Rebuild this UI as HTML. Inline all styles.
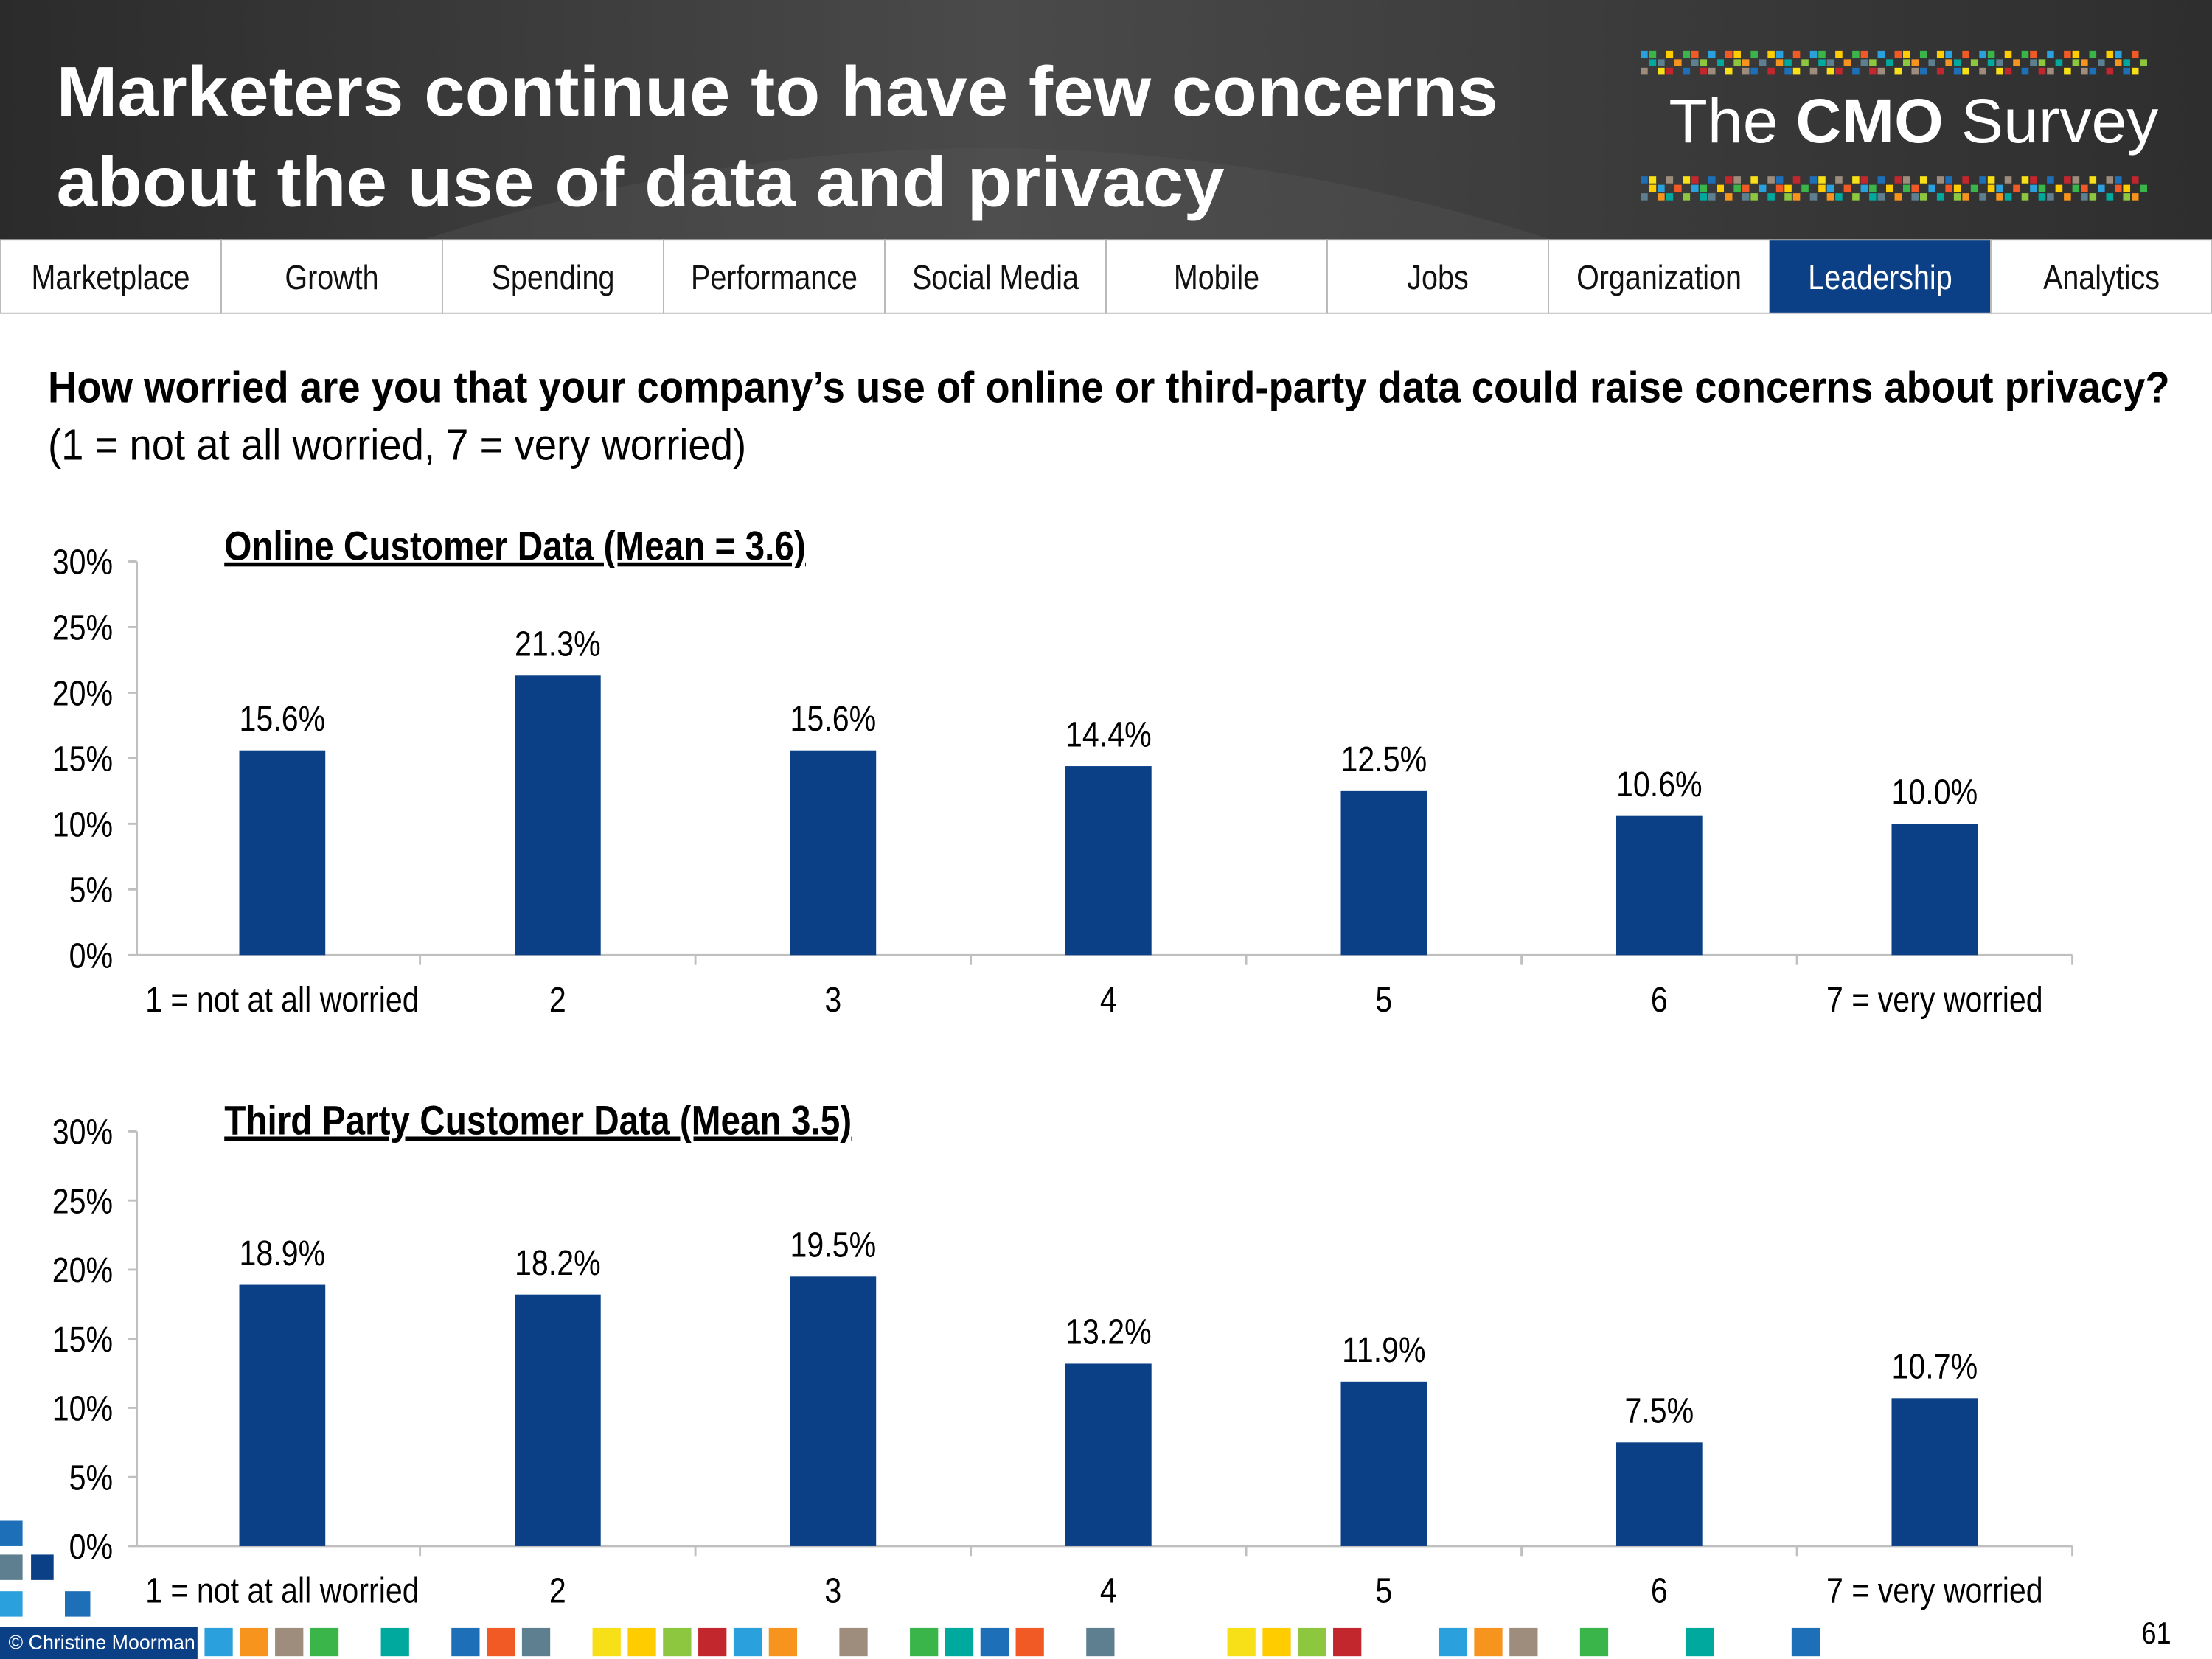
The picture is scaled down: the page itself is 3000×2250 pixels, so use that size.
<!DOCTYPE html>
<html><head><meta charset="utf-8">
<style>
html,body{margin:0;padding:0;background:#fff;}
svg{display:block;}
text{font-family:"Liberation Sans",sans-serif;}
</style></head>
<body>
<svg id="s" width="3000" height="2250" viewBox="0 0 1568 1176" xmlns="http://www.w3.org/2000/svg">
<defs>
<linearGradient id="hg" x1="0" y1="0" x2="1" y2="0">
<stop offset="0" stop-color="#2b2b2b"/><stop offset="0.45" stop-color="#4a4a4a"/><stop offset="0.75" stop-color="#3a3a3a"/><stop offset="1" stop-color="#2e2e2e"/>
</linearGradient>
</defs>
<g>
<rect x="0" y="0" width="1568" height="170" fill="url(#hg)"/>
<path d="M300 170 Q700 40 1100 170 Z" fill="#555" opacity="0.35"/>
<text x="40" y="82" fill="#fff" font-size="50" font-weight="bold" textLength="1022" lengthAdjust="spacingAndGlyphs" data-keep="1">Marketers continue to have few concerns</text>
<text x="40" y="146" fill="#fff" font-size="50" font-weight="bold" textLength="828" lengthAdjust="spacingAndGlyphs" data-keep="1">about the use of data and privacy</text>
<g id="pix"></g>
<text x="1183" y="101" fill="#fff" font-size="44" textLength="347" lengthAdjust="spacingAndGlyphs" data-keep="1">The <tspan font-weight="bold">CMO</tspan> Survey</text>
</g>
<g id="nav"></g>
<text x="34" y="285" font-size="31" font-weight="bold" fill="#000" textLength="1504" lengthAdjust="spacingAndGlyphs" data-keep="1">How worried are you that your company’s use of online or third-party data could raise concerns about privacy?</text>
<text x="34" y="326" font-size="31" fill="#000" textLength="495" lengthAdjust="spacingAndGlyphs" data-keep="1">(1 = not at all worried, 7 = very worried)</text>
<g id="c1"></g>
<g id="c2"></g>
<g id="foot">
<rect x="0" y="1078" width="16" height="18" fill="#1d6fb8"/>
<rect x="0" y="1102" width="16" height="18" fill="#5e7f8f"/>
<rect x="22" y="1102" width="16" height="18" fill="#0b4087"/>
<rect x="0" y="1128" width="16" height="18" fill="#2aa0dc"/>
<rect x="46" y="1128" width="18" height="18" fill="#1d6fb8"/>
<rect x="0" y="1153" width="140" height="23" fill="#0b4087"/>
<text x="6" y="1169" font-size="14" fill="#fff" data-keep="1">© Christine Moorman</text>
<text x="1518" y="1165" font-size="22" fill="#000">61</text>
</g>
</svg>
<script>
const NS='http://www.w3.org/2000/svg';
function mk(tag,attrs,parent,txt){const e=document.createElementNS(NS,tag);for(const k in attrs)e.setAttribute(k,attrs[k]);if(txt!==undefined)e.textContent=txt;parent.appendChild(e);return e;}

const navItems=['Marketplace','Growth','Spending','Performance','Social Media','Mobile','Jobs','Organization','Leadership','Analytics'];
const categories=['1 = not at all worried','2','3','4','5','6','7 = very worried'];
const onlineValues=[15.6,21.3,15.6,14.4,12.5,10.6,10.0];
const thirdPartyValues=[18.9,18.2,19.5,13.2,11.9,7.5,10.7];
const yTicks=[0,5,10,15,20,25,30];
const yTickLabels=['0%','5%','10%','15%','20%','25%','30%'];

const nav=document.getElementById('nav');
const nw=1568/navItems.length;
navItems.forEach((n,i)=>{
  const active=n==='Leadership';
  const r=mk('rect',{x:i*nw,y:170,width:nw,height:52,fill:active?'#0b4087':'#fff',stroke:'#b8b8b8','stroke-width':1},nav);
  
  
  const t=mk('text',{x:i*nw+nw/2,y:205,'text-anchor':'middle','font-size':24,fill:active?'#fff':'#111'},nav,n);
  
  
});

const pix=document.getElementById('pix');
const pal=['#2aa0dc','#1d6fb8','#8dc63f','#39b54a','#f7e017','#f7941d','#f15a24','#c1272d','#00a99d','#ffcc00','#9e8c7c','#5e7f8f'];
for(let i=0;i<60;i++){
  [40,125].forEach((y0,k)=>{
    for(let r=0;r<3;r++){
      if(((i*7+r*13+k*5)%5)<3){
        const p=mk('rect',{x:1163+i*6,y:y0+r*6-(k?0:4),width:5,height:5,fill:pal[(i*3+r*5+k)%pal.length]},pix);
        
        
      }
    }
  });
}
const foot=document.getElementById('foot');
const fx=[145,170,195,220,270,320,345,370,420,445,470,495,520,545,595,645,670,695,720,770,870,895,920,945,1020,1045,1070,1120,1195,1270];
fx.forEach((x,i)=>{
  const p=mk('rect',{x:x,y:1154,width:20,height:20,fill:pal[(i*5)%pal.length]},foot);
  
  
});

function chart(gid,values,title,titleY,yZero,yTop,catY){
  const g=document.getElementById(gid);
  const ax=97,x0=102.5,x1=1469,cw=(x1-x0)/categories.length;
  const ys=v=>yZero-(v/30)*(yZero-yTop);
  const xc=i=>x0+cw*(i+0.5);
  mk('line',{x1:ax,y1:yTop,x2:ax,y2:yZero,stroke:'#bfbfbf','stroke-width':1.5},g);
  mk('line',{x1:ax,y1:yZero,x2:x1,y2:yZero,stroke:'#bfbfbf','stroke-width':1.5},g);
  yTicks.forEach((t,i)=>{
    mk('line',{x1:ax-6,y1:ys(t),x2:ax,y2:ys(t),stroke:'#bfbfbf','stroke-width':1.5},g);
    const l=mk('text',{x:80,y:ys(t)+9,'text-anchor':'end','font-size':25,fill:'#000'},g,yTickLabels[i]);
    
    
  });
  for(let i=1;i<=categories.length;i++){
    mk('line',{x1:x0+cw*i,y1:yZero,x2:x0+cw*i,y2:yZero+7,stroke:'#bfbfbf','stroke-width':1.5},g);
  }
  values.forEach((v,i)=>{
    const b=mk('rect',{x:xc(i)-30.5,y:ys(v),width:61,height:yZero-ys(v),fill:'#0b4087'},g);
    
    
    const l=mk('text',{x:xc(i),y:ys(v)-14,'text-anchor':'middle','font-size':25,fill:'#000'},g,v.toFixed(1)+'%');
    
    
    const c=mk('text',{x:xc(i),y:catY,'text-anchor':'middle','font-size':25,fill:'#000'},g,categories[i]);
    
    
  });
  const t=mk('text',{x:159,y:titleY,'font-size':29,'font-weight':'bold',fill:'#000','text-decoration':'underline'},g,title);
  
  
}
chart('c1',onlineValues,'Online Customer Data (Mean = 3.6)',397,677,398,717);
chart('c2',thirdPartyValues,'Third Party Customer Data (Mean 3.5)',804,1096,802,1136);

// emulate narrow font: horizontally condense texts about their anchor x
document.querySelectorAll('#s text').forEach(t=>{
  if(t.getAttribute('data-keep'))return;
  const x=parseFloat(t.getAttribute('x'));
  t.setAttribute('transform','translate('+x+',0) scale(0.86,1) translate('+(-x)+',0)');
});
</script>
</body></html>
